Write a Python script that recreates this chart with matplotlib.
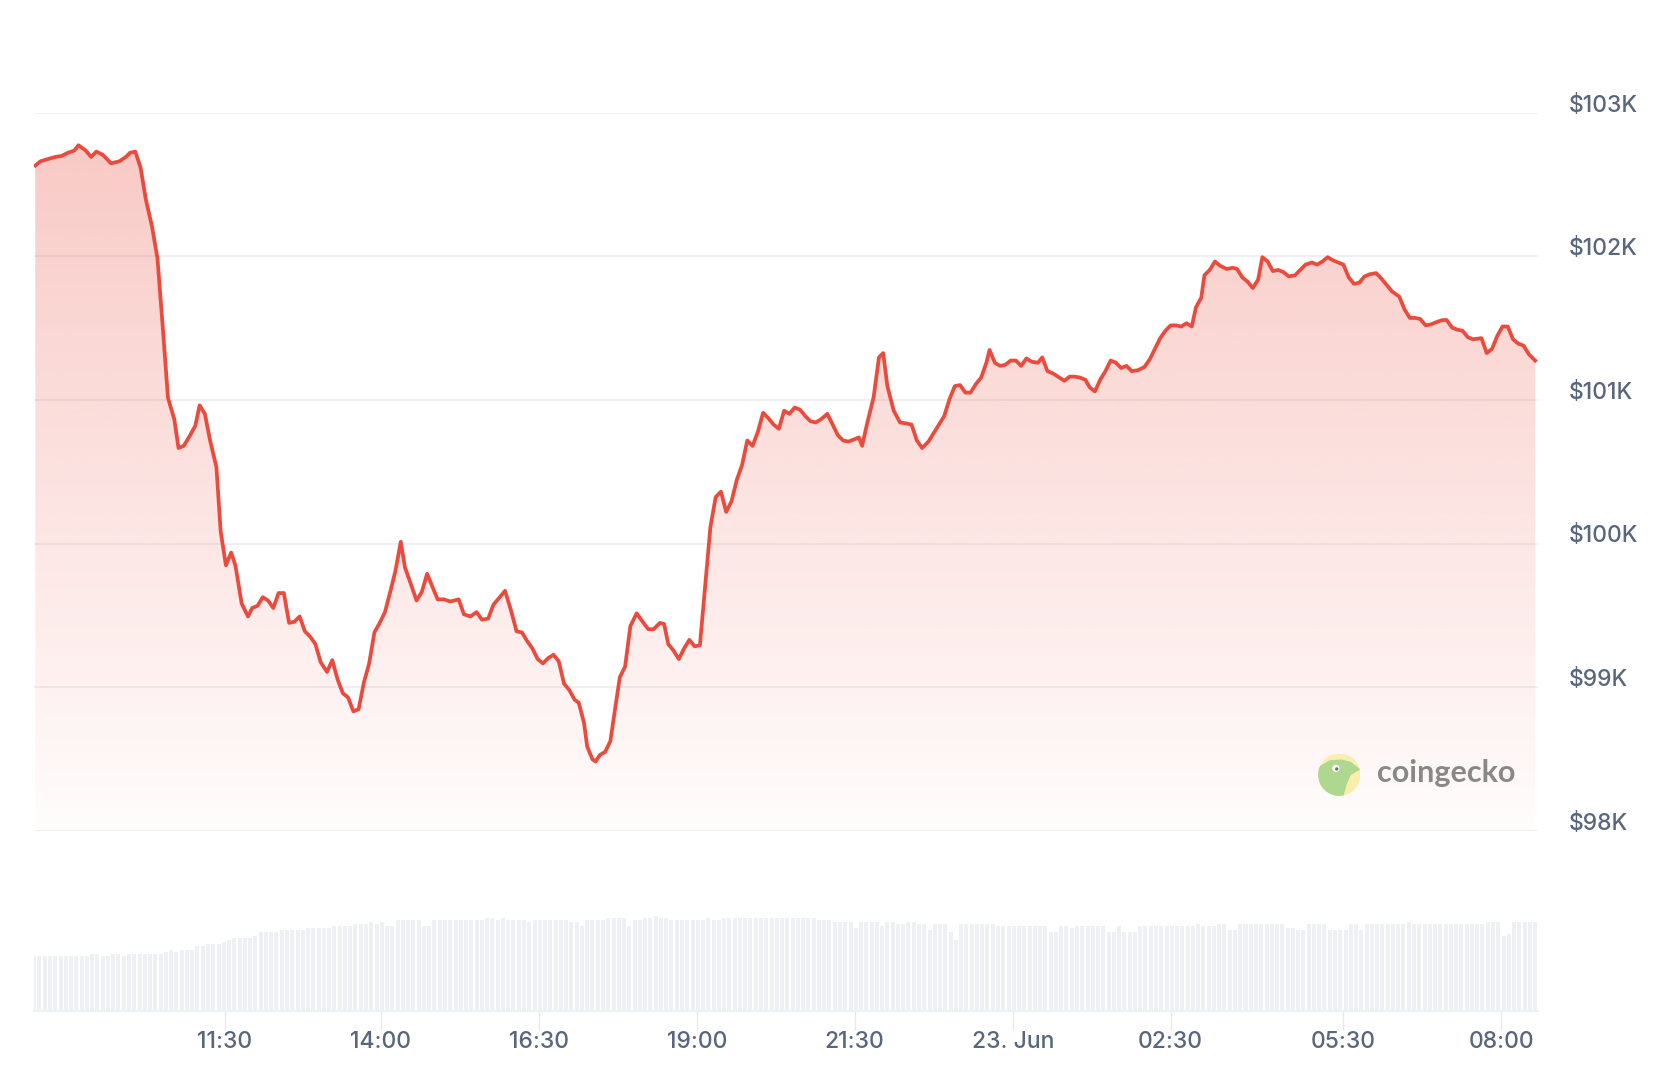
import numpy as np
import matplotlib
matplotlib.use("Agg")
import matplotlib.pyplot as plt
from matplotlib.patches import Circle, Polygon

# ────────────────────────────────────────────────────────────────
# DATA  (time = minutes after 22 Jun 08:30, price in USD)
# ────────────────────────────────────────────────────────────────
TIME_MIN = [
    2, 7, 14, 21, 27, 33, 39, 43, 50, 55,
    60, 66, 74, 82, 88, 92, 97, 102, 107, 113,
    118, 123, 128, 134, 138, 143, 149, 154, 158, 163,
    168, 174, 178, 183, 188, 192, 198, 204, 208, 213,
    218, 223, 228, 233, 238, 243, 248, 253, 258, 263,
    268, 273, 279, 284, 289, 294, 299, 304, 309, 314,
    319, 324, 329, 334, 339, 344, 349, 353, 358, 364,
    369, 374, 379, 384, 390, 396, 404, 409, 415, 421,
    426, 432, 437, 442, 448, 453, 459, 464, 469, 474,
    479, 484, 489, 494, 499, 504, 509, 514, 518, 523,
    526, 531, 534, 538, 543, 548, 552, 557, 562, 567,
    573, 578, 584, 589, 595, 599, 603, 608, 613, 618,
    623, 628, 633, 638, 643, 648, 653, 658, 663, 668,
    673, 678, 683, 688, 693, 698, 703, 708, 713, 718,
    723, 728, 733, 738, 743, 748, 754, 759, 764, 769,
    774, 779, 784, 787, 792, 798, 803, 807, 811, 817,
    823, 829, 834, 839, 844, 850, 855, 860, 865, 870,
    875, 880, 885, 890, 895, 900, 905, 908, 913, 918,
    923, 928, 933, 938, 943, 948, 954, 958, 963, 968,
    973, 979, 984, 989, 994, 999, 1003, 1008, 1013, 1018,
    1023, 1028, 1033, 1038, 1043, 1049, 1055, 1060, 1065, 1070,
    1075, 1080, 1085, 1090, 1095, 1100, 1104, 1109, 1112, 1117,
    1122, 1127, 1133, 1139, 1143, 1148, 1153, 1158, 1163, 1167,
    1172, 1177, 1182, 1187, 1192, 1198, 1203, 1208, 1214, 1219,
    1224, 1229, 1234, 1239, 1244, 1249, 1254, 1259, 1264, 1269,
    1275, 1280, 1285, 1290, 1297, 1302, 1307, 1312, 1317, 1322,
    1327, 1332, 1338, 1342, 1347, 1352, 1357, 1362, 1367, 1375,
    1380, 1385, 1390, 1395, 1400, 1405, 1410, 1415, 1420, 1426,
]

PRICE = [
    102632, 102662, 102677, 102692, 102699, 102721, 102736, 102773, 102736, 102692,
    102729, 102707, 102647, 102662, 102692, 102721, 102729, 102617, 102395, 102202,
    101986, 101511, 101014, 100865, 100665, 100680, 100754, 100821, 100962, 100903,
    100717, 100531, 100086, 99848, 99937, 99848, 99581, 99492, 99551, 99566,
    99626, 99603, 99551, 99655, 99655, 99447, 99455, 99492, 99388, 99351,
    99299, 99173, 99106, 99188, 99054, 98957, 98928, 98831, 98846, 99032,
    99165, 99381, 99447, 99522, 99663, 99811, 100012, 99833, 99730, 99603,
    99663, 99789, 99700, 99611, 99611, 99596, 99611, 99507, 99492, 99522,
    99470, 99477, 99574, 99618, 99670, 99551, 99388, 99381, 99321, 99269,
    99195, 99165, 99202, 99225, 99180, 99024, 98980, 98913, 98891, 98750,
    98586, 98497, 98482, 98527, 98549, 98623, 98824, 99069, 99143, 99425,
    99514, 99462, 99403, 99403, 99447, 99440, 99299, 99254, 99195, 99269,
    99329, 99284, 99291, 99707, 100116, 100323, 100361, 100220, 100294, 100442,
    100546, 100717, 100680, 100776, 100910, 100873, 100828, 100799, 100925, 100903,
    100947, 100932, 100888, 100851, 100843, 100865, 100903, 100828, 100754, 100717,
    100710, 100724, 100739, 100680, 100843, 101021, 101296, 101326, 101096, 100925,
    100843, 100836, 100828, 100717, 100665, 100710, 100769, 100828, 100888, 101006,
    101096, 101103, 101051, 101051, 101110, 101155, 101259, 101348, 101259, 101237,
    101244, 101274, 101274, 101237, 101289, 101266, 101259, 101296, 101200, 101185,
    101162, 101133, 101162, 101162, 101155, 101140, 101088, 101059, 101140, 101200,
    101274, 101259, 101222, 101237, 101200, 101207, 101229, 101281, 101355, 101430,
    101482, 101519, 101519, 101511, 101534, 101511, 101645, 101712, 101868, 101905,
    101964, 101934, 101912, 101920, 101912, 101853, 101823, 101779, 101838, 101994,
    101964, 101897, 101905, 101890, 101860, 101868, 101905, 101942, 101957, 101942,
    101964, 101994, 101972, 101957, 101942, 101853, 101808, 101816, 101860, 101875,
    101883, 101845, 101801, 101756, 101719, 101630, 101571, 101571, 101563, 101519,
    101526, 101541, 101556, 101556, 101504, 101489, 101482, 101437, 101422, 101430,
    101326, 101355, 101445, 101511, 101511, 101422, 101392, 101378, 101318, 101274,
]

# volume, one bar every 5 minutes starting at minute 1 (billion USD)
VOLUME = [
    23.0, 23.0, 23.0, 23.0, 23.0, 23.0, 23.0, 23.0, 23.0, 23.0,
    23.0, 23.8, 23.8, 23.0, 23.0, 23.8, 23.8, 23.0, 23.8, 23.8,
    23.8, 23.8, 23.8, 23.8, 23.8, 24.7, 25.5, 24.7, 25.5, 25.5,
    25.5, 27.2, 27.2, 28.0, 28.0, 28.0, 28.9, 29.7, 30.5, 30.5,
    30.5, 30.5, 31.4, 33.1, 33.1, 33.1, 33.1, 33.9, 33.9, 33.9,
    33.9, 33.9, 34.7, 34.7, 34.7, 34.7, 34.7, 35.6, 35.6, 35.6,
    35.6, 36.4, 36.4, 36.4, 37.3, 36.4, 37.3, 35.6, 35.6, 38.1,
    38.1, 38.1, 38.1, 38.1, 35.6, 35.6, 38.1, 38.1, 38.1, 38.1,
    38.1, 38.1, 38.1, 38.1, 38.1, 38.1, 39.0, 39.0, 38.1, 39.0,
    38.1, 38.1, 38.1, 38.1, 37.3, 38.1, 38.1, 38.1, 38.1, 38.1,
    38.1, 38.1, 37.3, 37.3, 35.6, 38.1, 38.1, 38.1, 38.1, 39.0,
    39.0, 39.0, 39.0, 35.6, 38.1, 38.1, 39.0, 39.0, 39.8, 39.0,
    39.0, 38.1, 38.1, 38.1, 38.1, 38.1, 38.1, 38.1, 39.0, 38.1,
    38.1, 39.0, 39.0, 39.0, 39.0, 39.0, 39.0, 39.0, 39.0, 39.0,
    39.0, 39.0, 39.0, 39.0, 39.0, 39.0, 39.0, 39.0, 39.0, 38.1,
    38.1, 38.1, 37.3, 37.3, 37.3, 37.3, 34.7, 37.3, 37.3, 37.3,
    37.3, 35.6, 37.3, 37.3, 36.4, 36.4, 37.3, 37.3, 36.4, 36.4,
    33.9, 36.4, 36.4, 36.4, 33.1, 29.7, 36.4, 36.4, 36.4, 36.4,
    36.4, 36.4, 36.4, 35.6, 35.6, 35.6, 35.6, 35.6, 35.6, 35.6,
    35.6, 35.6, 35.6, 33.1, 33.1, 35.6, 35.6, 34.7, 35.6, 35.6,
    35.6, 35.6, 35.6, 35.6, 33.1, 33.1, 35.6, 33.1, 33.1, 33.1,
    35.6, 35.6, 35.6, 35.6, 35.6, 35.6, 35.6, 35.6, 35.6, 35.6,
    35.6, 36.4, 35.6, 35.6, 35.6, 36.4, 36.4, 33.9, 33.9, 36.4,
    36.4, 36.4, 36.4, 36.4, 36.4, 36.4, 36.4, 36.4, 34.7, 34.7,
    33.9, 33.9, 36.4, 36.4, 36.4, 36.4, 33.9, 33.9, 33.9, 33.9,
    36.4, 36.4, 33.9, 36.4, 36.4, 36.4, 36.4, 36.4, 36.4, 36.4,
    36.4, 37.3, 36.4, 36.4, 36.4, 36.4, 36.4, 36.4, 36.4, 36.4,
    36.4, 36.4, 36.4, 36.4, 36.4, 36.4, 37.3, 37.3, 37.3, 31.4,
    32.2, 37.3, 37.3, 37.3, 37.3, 37.3,
]
VOL_START_MIN = 1
VOL_STEP_MIN = 5

Y_TICKS = [98000, 99000, 100000, 101000, 102000, 103000]
Y_LABELS = ["$98K", "$99K", "$100K", "$101K", "$102K", "$103K"]

X_TICKS = [182, 330, 480, 630, 780, 930, 1080, 1244, 1394]
X_LABELS = ["11:30", "14:00", "16:30", "19:00", "21:30", "23. Jun",
            "02:30", "05:30", "08:00"]

# ────────────────────────────────────────────────────────────────
# STYLE
# ────────────────────────────────────────────────────────────────
W, H = 1672, 1092
LINE_COLOR = "#ea4b3d"
TEXT_COLOR = "#58667e"
GRID_COLOR = "#eeeff3"
VOL_COLOR = "#eff0f4"
FONT = ["Inter", "DejaVu Sans"]
LABEL_SIZE = 16.5

plt.rcParams["font.family"] = FONT

fig = plt.figure(figsize=(W / 100, H / 100), dpi=100)
fig.patch.set_facecolor("white")

x_lo, x_hi = 0.8, 1428.7

# ────────────────────────────────────────────────────────────────
# PRICE PANEL
# ────────────────────────────────────────────────────────────────
ax = fig.add_axes([34 / W, 1 - 830.7 / H, 1504 / W, 718 / H])
ax.set_xlim(x_lo, x_hi)
ax.set_ylim(Y_TICKS[0], Y_TICKS[-1])
for s in ax.spines.values():
    s.set_visible(False)
ax.set_xticks([])
ax.set_yticks(Y_TICKS)
ax.tick_params(axis="y", length=0, labelleft=False)
ax.grid(axis="y", color=GRID_COLOR, linewidth=1.3, zorder=0)
ax.set_axisbelow(True)

# gradient fill under the line
poly = ax.fill_between(TIME_MIN, PRICE, Y_TICKS[0], facecolor="none",
                       edgecolor="none")
alpha = np.linspace(0.31, 0.015, 256)
grad = np.zeros((256, 1, 4))
grad[..., 0] = 234 / 255
grad[..., 1] = 75 / 255
grad[..., 2] = 61 / 255
grad[..., 3] = alpha[:, None]
im = ax.imshow(grad, extent=[x_lo, x_hi, Y_TICKS[0], Y_TICKS[-1]],
               aspect="auto", origin="upper", zorder=1, interpolation="bilinear")
im.set_clip_path(poly.get_paths()[0], transform=ax.transData)

ax.plot(TIME_MIN, PRICE, color=LINE_COLOR, linewidth=2.7,
        solid_joinstyle="round", zorder=3)

for v, lab in zip(Y_TICKS, Y_LABELS):
    ax.annotate(lab, xy=(1, v), xycoords=("axes fraction", "data"),
                xytext=(22.3, 0.8), textcoords="offset points",
                ha="left", va="baseline", fontsize=LABEL_SIZE,
                fontweight="medium", color=TEXT_COLOR)

# ────────────────────────────────────────────────────────────────
# VOLUME PANEL
# ────────────────────────────────────────────────────────────────
vol_t = VOL_START_MIN + VOL_STEP_MIN * np.arange(len(VOLUME))
axv = fig.add_axes([34 / W, 1 - 1010.7 / H, 1504 / W, 100 / H])
axv.set_xlim(x_lo, x_hi)
axv.set_ylim(0, 42)
axv.bar(vol_t, VOLUME, width=3.8, color=VOL_COLOR, linewidth=0)
for k in ["top", "left", "right"]:
    axv.spines[k].set_visible(False)
axv.spines["bottom"].set_color(VOL_COLOR)
axv.spines["bottom"].set_linewidth(1.5)
axv.set_yticks([])
axv.set_xticks(X_TICKS)
axv.set_xticklabels(X_LABELS, fontweight="medium")
axv.tick_params(axis="x", length=13.4, width=1.0, color="#e6e8ed",
                labelsize=LABEL_SIZE, labelcolor=TEXT_COLOR, pad=1.5)

# ────────────────────────────────────────────────────────────────
# WATERMARK
# ────────────────────────────────────────────────────────────────
cx, cy, r = 1339.3, 774.7, 21.2
axl = fig.add_axes([(cx - r) / W, (H - cy - r) / H, 2 * r / W, 2 * r / H])
axl.set_xlim(-1, 1)
axl.set_ylim(-1, 1)
axl.axis("off")
disk = Circle((0, 0), 1, facecolor="#faeeab", edgecolor="none")
axl.add_patch(disk)
head = Polygon([(-1.2, -1.2), (-1.2, 0.2), (-0.85, 0.45), (-0.45, 0.68),
                (0.1, 0.72), (0.55, 0.6), (1.0, 0.25), (0.55, 0.0),
                (0.35, -0.45), (0.15, -1.2)], closed=True,
               facecolor="#aed78f", edgecolor="none")
axl.add_patch(head)
head.set_clip_path(disk)
axl.add_patch(Circle((-0.16, 0.3), 0.17, facecolor="white", edgecolor="none"))
axl.add_patch(Circle((-0.12, 0.27), 0.08, facecolor="#707070", edgecolor="none"))

fig.text(1377 / W, 1 - 782.3 / H, "coingecko", family=["Lato", "DejaVu Sans"],
         fontweight="bold", fontsize=22, color="#888888", va="baseline",
         ha="left")

fig.savefig("out.png", dpi=100, facecolor="white")
